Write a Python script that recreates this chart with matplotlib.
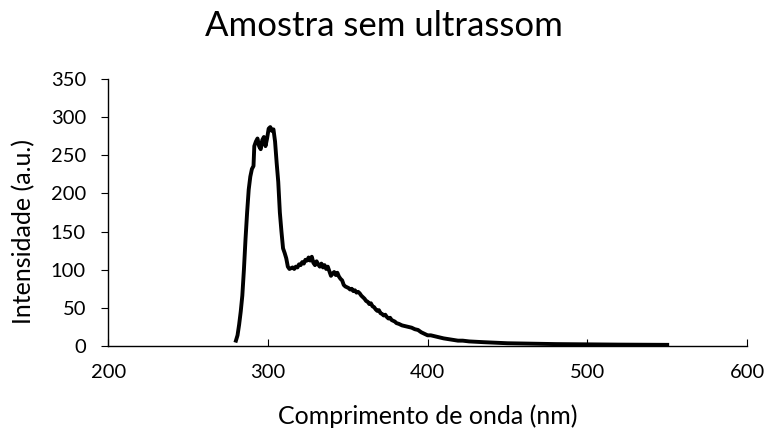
import matplotlib.pyplot as plt

plt.rcParams['font.family'] = ['Lato', 'DejaVu Sans']

# wavelength (nm) and intensity (a.u.)
wl = [280, 281, 282, 283, 284, 285, 286, 287, 288, 289, 290, 291,
      291.5, 292.5, 293.5, 294.5, 295.5, 296.5, 297.5, 298.5, 299.5, 300.5,
      301.5, 302.5, 303.5, 304.5, 305.5, 306.5, 307.5, 308.5, 309.5, 310.5,
      311.5, 312.5, 313.5, 314.5, 315.5, 316.5, 317.5, 318.5, 319.5, 320.5,
      321.5, 322.5, 323.5, 324.5, 325.5, 326.5, 327.5, 328.5, 329.5, 330.5,
      331.5, 332.5, 333.5, 334.5, 335.5, 336.5, 337.5, 338.5, 339.5, 340.5,
      341.5, 342.5, 343.5, 344.5, 345.5, 346.5, 347.5, 348.5, 349.5, 350.5,
      351.5, 352.5, 353.5, 354.5, 355.5, 356.5, 357.5, 358.5, 359.5, 360.5,
      361.5, 362.5, 363.5, 364.5, 365.5, 366.5, 367.5, 368.5, 369.5, 370.5,
      371.5, 372.5, 373.5, 374.5, 375.5, 376.5, 377.5, 378.5, 379.5, 380.5,
      382, 384, 386, 388, 390, 392, 394, 396, 398, 400, 402, 404, 406, 408,
      410, 413, 416, 419, 422, 426, 430, 435, 440, 445, 450, 460, 470, 480,
      490, 500, 510, 520, 530, 540, 550]
intensity = [7, 14, 28, 45, 66, 100, 140, 175, 205, 222, 232, 236,
             262, 268, 272, 262, 258, 270, 274, 262, 272, 285,
             287, 282, 284, 268, 240, 215, 175, 150, 128, 122,
             115, 104, 101, 102, 103, 101, 104, 103, 107, 106,
             110, 108, 113, 112, 116, 112, 117, 109, 106, 111,
             107, 104, 108, 103, 106, 101, 104, 98, 92, 95,
             97, 93, 96, 91, 88, 86, 80, 78, 77, 76,
             74, 75, 72, 73, 70, 71, 69, 66, 64, 62,
             59, 58, 55, 56, 52, 51, 48, 46, 47, 43,
             42, 40, 41, 38, 36, 37, 34, 33, 32, 30,
             29, 27, 26, 25, 24, 22, 21, 18, 16, 14, 14, 13, 12, 11,
             10, 9, 8, 7, 7, 6, 5.5, 5, 4.5, 4, 3.6, 3.2, 2.8, 2.5,
             2.3, 2.1, 1.9, 1.8, 1.7, 1.6, 1.5]

xticks = [200, 300, 400, 500, 600]
yticks = [0, 50, 100, 150, 200, 250, 300, 350]

fig = plt.figure(figsize=(7.67, 4.28), dpi=100)
ax = fig.add_axes([0.141, 0.1916, 0.833, 0.6238])

ax.plot(wl, intensity, color='black', lw=2.8, solid_joinstyle='round')

ax.set_xlim(200, 600)
ax.set_ylim(0, 350)
ax.set_xticks(xticks)
ax.set_yticks(yticks)
ax.spines['top'].set_visible(False)
ax.spines['right'].set_visible(False)
for s in ['left', 'bottom']:
    ax.spines[s].set_color('black')
    ax.spines[s].set_linewidth(1)
ax.tick_params(axis='x', direction='in', length=5, labelsize=14.5, pad=13)
ax.tick_params(axis='y', direction='out', length=5, labelsize=14.5, pad=11)

ax.set_xlabel('Comprimento de onda (nm)', fontsize=18, va='center')
ax.set_ylabel('Intensidade (a.u.)', fontsize=18, va='center')
ax.xaxis.set_label_coords(0.5, (346 - 416) / 267)
ax.yaxis.set_label_coords((23 - 108) / 639, 0.5 - (231 - 212.5) / 267)

fig.text(0.5, 1 - 36 / 428, 'Amostra sem ultrassom', ha='center',
         va='baseline', fontsize=25)

fig.savefig('out.png', dpi=100)
